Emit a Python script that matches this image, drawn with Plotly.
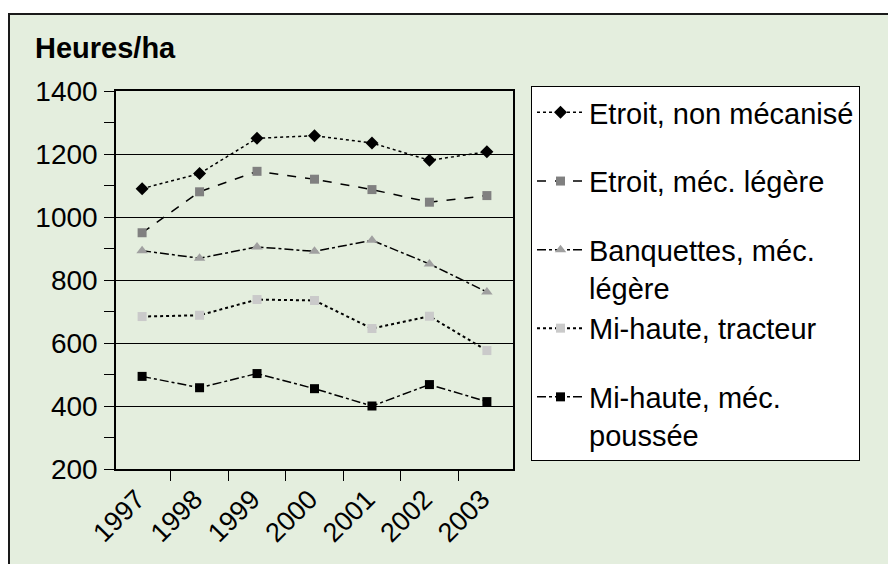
import plotly.graph_objects as go

years = ["1997", "1998", "1999", "2000", "2001", "2002", "2003"]
etroit_non_mec = [1090, 1138, 1250, 1258, 1235, 1180, 1207]
etroit_mec_leg = [950, 1080, 1145, 1120, 1087, 1047, 1068]
banquettes_mec = [893, 869, 905, 891, 926, 851, 762]
mi_haute_tract = [684, 688, 738, 735, 646, 685, 576]
mi_haute_pouss = [494, 458, 503, 455, 400, 468, 414]

names = ["Etroit, non mécanisé", "Etroit, méc. légère", "Banquettes, méc.<br>légère",
         "Mi-haute, tracteur", "Mi-haute, méc.<br>poussée"]

FONT = "Liberation Sans, Arial, sans-serif"

W, H = 888, 564
L, R, T, B = 116, 513, 91, 469
pw, ph = R - L, B - T

def px_x(p):
    return (p - L) / pw

def px_y(p):
    return (B - p) / ph

fig = go.Figure()
series = [
    (etroit_non_mec, names[0], "diamond", "#000000", 10, "dot", 1.5, "g1"),
    (etroit_mec_leg, names[1], "square", "#808080", 9, "dash", 1.5, "g2"),
    (banquettes_mec, names[2], "triangle-up", "#A0A0A0", 10, "dashdot", 1.5, "g3"),
    (mi_haute_tract, names[3], "square", "#CACACA", 9, "dot", 2, "g3"),
    (mi_haute_pouss, names[4], "square", "#000000", 9, "dashdot", 1.5, "g4"),
]
for vals, nm, sym, col, sz, dash, lw, grp in series:
    fig.add_trace(go.Scatter(
        x=years, y=vals, name=nm, mode="lines+markers", legendgroup=grp,
        line=dict(color="#000000", width=lw, dash=dash),
        marker=dict(symbol=sym, color=col, size=sz, line=dict(width=0)),
    ))

fig.add_shape(type="rect", xref="paper", yref="paper",
              x0=px_x(9), x1=px_x(W + 10), y0=px_y(H + 10), y1=px_y(14),
              fillcolor="#E4EEDE", line=dict(color="#1a1a1a", width=2), layer="below")

fig.update_layout(
    width=W, height=H,
    margin=dict(l=L, r=W - R, t=T, b=H - B, autoexpand=False),
    paper_bgcolor="#FFFFFF", plot_bgcolor="#FFFFFF",
    font=dict(family=FONT, size=28, color="#000000"),
    title=dict(text="<b>Heures/ha</b>", x=35 / W, xanchor="left", xref="container",
               y=1 - 48 / H, yanchor="middle", yref="container",
               font=dict(family=FONT, size=29, color="#000000")),
    showlegend=True,
    legend=dict(x=531 / W, y=1 - 86 / H, xref="container", yref="container",
                xanchor="left", yanchor="top", maxheight=520,
                bgcolor="#FFFFFF", bordercolor="#000000", borderwidth=1,
                font=dict(family=FONT, size=29, color="#000000"),
                itemwidth=47, tracegroupgap=28, valign="top",
                traceorder="grouped"),
    xaxis=dict(type="category", showline=True, mirror=True, linecolor="#000000", linewidth=1.5,
               ticks="outside", tickson="boundaries", ticklen=10, tickcolor="#000000",
               tickangle=-45, showgrid=False, zeroline=False,
               ticklabelshift=-5, ticklabelstandoff=2,
               tickfont=dict(family=FONT, size=27)),
    yaxis=dict(range=[200, 1400], tick0=200, dtick=200, showline=True, mirror=True,
               linecolor="#000000", linewidth=1.5, ticks="outside", ticklen=10,
               tickcolor="#000000", showgrid=True, gridcolor="#000000", gridwidth=1,
               zeroline=False, ticklabelstandoff=1,
               tickfont=dict(family=FONT, size=28),
               minor=dict(dtick=100, ticks="outside", ticklen=10, tickcolor="#000000",
                          showgrid=False)),
)

fig.write_html("out.html", config={"displayModeBar": False},
               post_script="document.body.style.margin='0';")
